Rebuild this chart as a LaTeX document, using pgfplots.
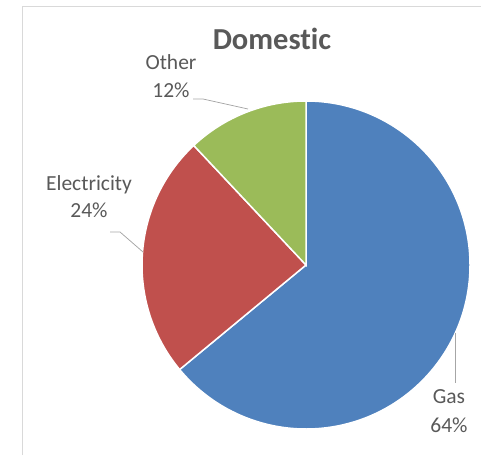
\documentclass[border=0pt]{standalone}
\usepackage{pgfplots}
\pgfplotsset{compat=1.18}
\usepackage{pgfplotstable}
\usepackage{fontspec}
\setmainfont{Carlito}[Ligatures=NoCommon]
\definecolor{gasblue}{HTML}{4F81BD}
\definecolor{elecred}{HTML}{C0504D}
\definecolor{othgreen}{HTML}{9BBB59}
\definecolor{txtgray}{HTML}{595959}
\definecolor{linegray}{HTML}{A6A6A6}
\definecolor{framegray}{HTML}{D9D9D9}
\pgfplotstableread{
label value
Gas 64
Electricity 24
Other 12
}\piedata
\begin{document}
\begin{tikzpicture}
\pgfplotstablegetelem{0}{value}\of\piedata \let\vA\pgfplotsretval
\pgfplotstablegetelem{1}{value}\of\piedata \let\vB\pgfplotsretval
\pgfplotstablegetelem{2}{value}\of\piedata \let\vC\pgfplotsretval
\pgfmathsetmacro{\tot}{\vA+\vB+\vC}
\pgfmathsetmacro{\aA}{90}
\pgfmathsetmacro{\aB}{90-3.6*(100*\vA/\tot)}
\pgfmathsetmacro{\aC}{\aB-3.6*(100*\vB/\tot)}
\pgfmathsetmacro{\aD}{\aC-3.6*(100*\vC/\tot)}
\begin{axis}[
  at={(0,0)}, anchor=south west,
  width=481pt, height=455pt, scale only axis,
  xmin=0, xmax=481, ymin=0, ymax=455,
  enlargelimits=false, hide axis, clip=false,
]
% frame
\draw[framegray, line width=0.8pt] (axis cs:22,0) -- (axis cs:22,449) -- (axis cs:481,449);
% slices
\fill[gasblue, draw=white, line width=1.5pt] (axis cs:306,190) -- ++(\aA:164pt) arc[start angle=\aA, end angle=\aB, radius=164pt] -- cycle;
\fill[elecred, draw=white, line width=1.5pt] (axis cs:306,190) -- ++(\aB:164pt) arc[start angle=\aB, end angle=\aC, radius=164pt] -- cycle;
\fill[othgreen, draw=white, line width=1.5pt] (axis cs:306,190) -- ++(\aC:164pt) arc[start angle=\aC, end angle=\aD, radius=164pt] -- cycle;
% leader lines
\draw[linegray, line width=0.75pt] (axis cs:455,122) -- (axis cs:455,72);
\draw[linegray, line width=0.75pt] (axis cs:193,356) -- (axis cs:203,356) -- (axis cs:248,346);
\draw[linegray, line width=0.75pt] (axis cs:110,223) -- (axis cs:120,223) -- (axis cs:143,203);
% title
\node[anchor=base, text=txtgray, font=\fontsize{30.5}{36}\selectfont\bfseries, inner sep=0pt] at (axis cs:272,405) {Domestic};
% labels
\begin{scope}[every node/.style={anchor=base, text=txtgray, font=\fontsize{21.5}{26}\selectfont, inner sep=0pt}]
\node at (axis cs:171,385) {Other};
\node at (axis cs:171,357) {12\%};
\node at (axis cs:89,264) {Electricity};
\node at (axis cs:89,237) {24\%};
\node at (axis cs:449,52) {Gas};
\node at (axis cs:449,23) {64\%};
\end{scope}
\end{axis}
\pgfresetboundingbox
\path[use as bounding box] (0,0) rectangle (481pt,455pt);
\end{tikzpicture}
\end{document}
